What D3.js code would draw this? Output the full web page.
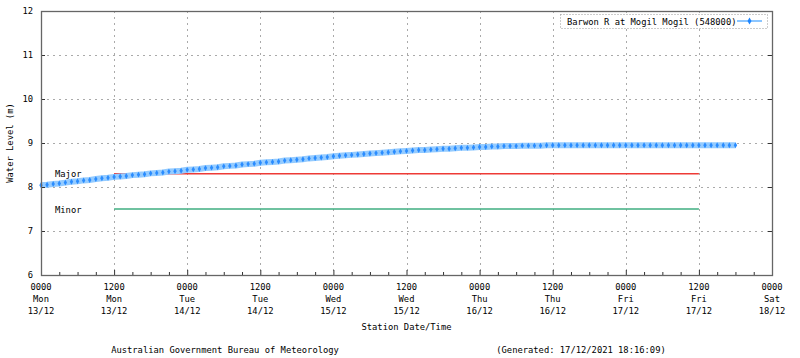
<!DOCTYPE html>
<html>
<head>
<meta charset="utf-8">
<script src="https://cdn.jsdelivr.net/npm/d3@7"></script>
<style>
  body { margin: 0; background: #fff; }
  svg text { font-family: "DejaVu Sans Mono", monospace; font-size: 8.8px; fill: #000; }
</style>
</head>
<body>
<svg width="800" height="358"></svg>
<script>
// hourly readings from 0000 Mon 13/12/2021
var startTime = Date.UTC(2021, 11, 13, 0);
var levels = [
  8.04, 8.05, 8.07, 8.08, 8.10, 8.12, 8.13, 8.15, 8.16, 8.18, 8.20, 8.21, 8.23,
  8.24, 8.25, 8.27, 8.28, 8.29, 8.31, 8.32, 8.33, 8.35, 8.36, 8.37, 8.39,
  8.40, 8.41, 8.43, 8.44, 8.45, 8.47, 8.48, 8.49, 8.51, 8.52, 8.53, 8.55,
  8.56, 8.57, 8.58, 8.60, 8.61, 8.62, 8.63, 8.65, 8.66, 8.67, 8.68, 8.70,
  8.71, 8.72, 8.73, 8.74, 8.75, 8.76, 8.77, 8.78, 8.79, 8.80, 8.81, 8.82,
  8.83, 8.84, 8.84, 8.85, 8.86, 8.87, 8.87, 8.88, 8.89, 8.89, 8.90, 8.91,
  8.91, 8.92, 8.92, 8.93, 8.93, 8.93, 8.94, 8.94, 8.94, 8.94, 8.95, 8.95,
  8.95, 8.95, 8.95, 8.95, 8.95, 8.95, 8.95, 8.95, 8.95, 8.95, 8.95, 8.95,
  8.95, 8.95, 8.95, 8.95, 8.95, 8.95, 8.95, 8.95, 8.95, 8.95, 8.95, 8.95,
  8.95, 8.95, 8.95, 8.95, 8.95, 8.95
];
var floodLevels = [
  { name: "Major", value: 8.3, color: "#ee3b36" },
  { name: "Minor", value: 7.5, color: "#3fae80" }
];
// flood lines run from 1200 Mon to 1200 Fri
var floodFrom = Date.UTC(2021, 11, 13, 12),
    floodTo = Date.UTC(2021, 11, 17, 12);
var yTicks = [6, 7, 8, 9, 10, 11, 12];
var seriesName = "Barwon R at Mogil Mogil (548000)";
var xTitle = "Station Date/Time", yTitle = "Water Level (m)";
var footLeft = "Australian Government Bureau of Meteorology",
    footRight = "(Generated: 17/12/2021 18:16:09)";

var HOUR = 3600 * 1000;
var data = levels.map((v, i) => ({ t: new Date(startTime + i * HOUR), v: v }));

var svg = d3.select("svg"),
    margin = { top: 11, right: 28, bottom: 83, left: 41 },
    width = +svg.attr("width") - margin.left - margin.right,
    height = +svg.attr("height") - margin.top - margin.bottom,
    g = svg.append("g").attr("transform", "translate(" + margin.left + "," + margin.top + ")");

var x = d3.scaleUtc()
    .domain([new Date(startTime), new Date(Date.UTC(2021, 11, 18, 0))])
    .range([0, width]);
var y = d3.scaleLinear().domain([6, 12]).range([height, 0]);

var majorTimes = d3.utcHour.every(12).range(x.domain()[0], new Date(+x.domain()[1] + 1));
var minorTimes = d3.utcHour.every(3).range(x.domain()[0], x.domain()[1])
    .filter(d => d.getUTCHours() % 12 != 0);

// grid
g.append("g").selectAll("line.vg")
    .data(majorTimes.slice(1, -1)).enter().append("line")
    .attr("x1", d => Math.round(x(d)) + 0.5).attr("x2", d => Math.round(x(d)) + 0.5)
    .attr("y1", 0).attr("y2", height)
    .attr("stroke", "#aaa").attr("stroke-dasharray", "2,4");
g.append("g").selectAll("line.hg")
    .data(yTicks.slice(1, -1)).enter().append("line")
    .attr("x1", 0).attr("x2", width)
    .attr("y1", d => Math.round(y(d)) + 0.5).attr("y2", d => Math.round(y(d)) + 0.5)
    .attr("stroke", "#aaa").attr("stroke-dasharray", "2,4");

// flood classification lines
g.selectAll("line.flood")
    .data(floodLevels).enter().append("line")
    .attr("x1", x(floodFrom)).attr("x2", x(floodTo))
    .attr("y1", d => y(d.value)).attr("y2", d => y(d.value))
    .attr("stroke", d => d.color).attr("stroke-width", 1.4);
g.selectAll("text.flood")
    .data(floodLevels).enter().append("text")
    .attr("x", 14).attr("y", d => y(d.value) + (d.name == "Major" ? 0 : 1))
    .attr("dy", "0.35em")
    .text(d => d.name);

// series
var line = d3.line().x(d => x(d.t)).y(d => y(d.v));
g.append("path").datum(data)
    .attr("fill", "none").attr("stroke", "#94cbff").attr("stroke-width", 6)
    .attr("d", line);
g.append("g").selectAll("path")
    .data(data).enter().append("path")
    .attr("transform", d => "translate(" + x(d.t) + "," + y(d.v) + ")")
    .attr("d", d3.symbol(d3.symbolDiamond, 10))
    .attr("fill", "#2a8cff");

// axes (ticks point inward)
g.append("g").attr("transform", "translate(0," + height + ")")
    .call(d3.axisBottom(x).tickValues(majorTimes).tickSizeInner(-5).tickSizeOuter(0).tickFormat(""))
    .call(a => a.select(".domain").remove())
    .call(a => a.selectAll("line").attr("stroke", "#333"));
g.append("g").attr("transform", "translate(0," + height + ")")
    .call(d3.axisBottom(x).tickValues(minorTimes).tickSizeInner(-3).tickSizeOuter(0).tickFormat(""))
    .call(a => a.select(".domain").remove())
    .call(a => a.selectAll("line").attr("stroke", "#333"));
g.append("g")
    .call(d3.axisLeft(y).tickValues(yTicks).tickSizeInner(-4).tickSizeOuter(0).tickPadding(8).tickFormat(d3.format("d")))
    .call(a => a.select(".domain").remove())
    .call(a => a.selectAll("line").attr("stroke", "#333"))
    .call(a => a.selectAll("text").attr("font-family", null).attr("font-size", null));
g.append("g").attr("transform", "translate(" + width + ",0)")
    .call(d3.axisRight(y).tickValues(yTicks).tickSizeInner(-4).tickSizeOuter(0).tickFormat(""))
    .call(a => a.select(".domain").remove())
    .call(a => a.selectAll("line").attr("stroke", "#333"));

// x tick labels, three lines each
var fmts = [d3.utcFormat("%H%M"), d3.utcFormat("%a"), d3.utcFormat("%d/%m")];
var lbl = g.append("g").selectAll("text")
    .data(majorTimes).enter().append("text")
    .attr("text-anchor", "middle")
    .attr("x", d => x(d))
    .attr("y", height + 15);
lbl.each(function (d) {
    var t = d3.select(this);
    fmts.forEach((f, i) => t.append("tspan").attr("x", x(d)).attr("dy", i == 0 ? 0 : 11.8).text(f(d)));
});

// frame
g.append("rect").attr("x", 0.5).attr("y", 0.5).attr("width", width).attr("height", height)
    .attr("fill", "none").attr("stroke", "#666").attr("stroke-width", 1.3);

// legend
var leg = g.append("g").attr("transform", "translate(" + (width - 212) + ",3)");
leg.append("rect").attr("x", 0.5).attr("y", 0.5).attr("width", 207).attr("height", 14)
    .attr("fill", "#fff").attr("stroke", "#999").attr("stroke-dasharray", "1,2");
leg.append("text").attr("x", 7).attr("y", 7.5).attr("dy", "0.35em").text(seriesName);
leg.append("line").attr("x1", 177).attr("x2", 202).attr("y1", 7).attr("y2", 7)
    .attr("stroke", "#8cc6ff").attr("stroke-width", 2);
leg.append("path").attr("transform", "translate(189.5,7)")
    .attr("d", d3.symbol(d3.symbolDiamond, 14)).attr("fill", "#1f86ff");

// titles
svg.append("text").attr("text-anchor", "middle")
    .attr("transform", "translate(10," + (margin.top + height / 2) + ") rotate(-90)")
    .attr("dy", "0.35em").text(yTitle);
svg.append("text").attr("text-anchor", "middle")
    .attr("x", margin.left + width / 2).attr("y", 330).text(xTitle);
svg.append("text").attr("text-anchor", "middle").attr("x", 225).attr("y", 353).text(footLeft);
svg.append("text").attr("text-anchor", "middle").attr("x", 581).attr("y", 353).text(footRight);
</script>
</body>
</html>
